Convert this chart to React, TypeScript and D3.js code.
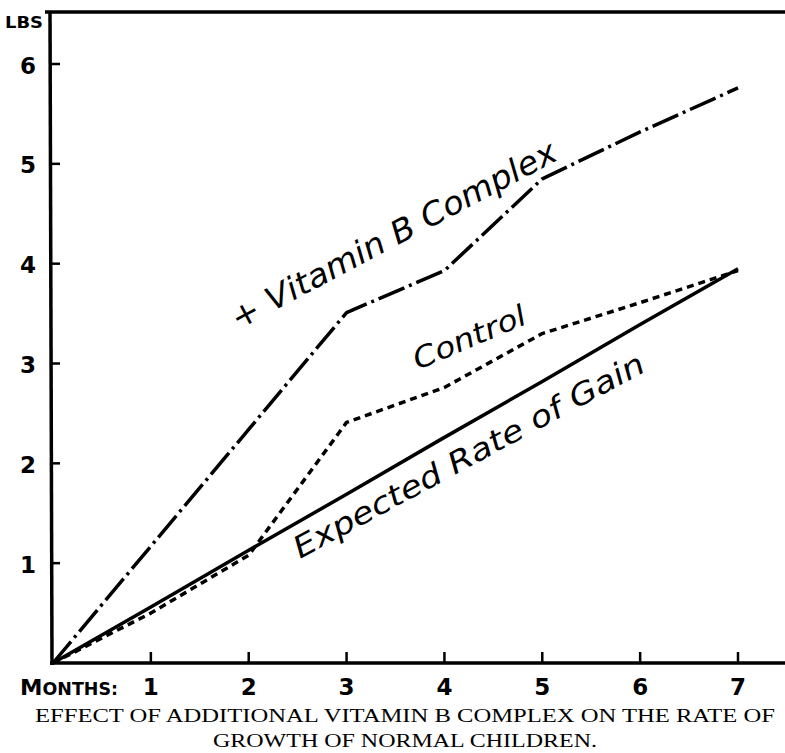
import React from "react";
import * as d3 from "d3";

const months = [0, 1, 2, 3, 4, 5, 6, 7];
const vitaminB = [0, 1.17, 2.34, 3.51, 3.93, 4.85, 5.32, 5.76];
const control = [0, 0.5, 1.08, 2.41, 2.76, 3.3, 3.61, 3.93];
const expected = [0, 0.56, 1.13, 1.69, 2.26, 2.82, 3.39, 3.95];
const xTicks = [1, 2, 3, 4, 5, 6, 7];
const yTicks = [1, 2, 3, 4, 5, 6];

const W = 785;
const H = 753;

export default function App() {
  const x = d3.scaleLinear().domain([0, 7]).range([53, 738]);
  const y = d3.scaleLinear().domain([0, 6]).range([663, 64]);
  const line = d3
    .line<[number, number]>()
    .x((d) => x(d[0]))
    .y((d) => y(d[1]));
  const pts = (vals: number[]) => months.map((m, i) => [m, vals[i]] as [number, number]);

  const hand = "'DejaVu Sans', sans-serif";
  const bold = "'DejaVu Sans', sans-serif";
  const serif = "'Liberation Serif', 'DejaVu Serif', serif";

  return (
    <svg
      width={W}
      height={H}
      viewBox={`0 0 ${W} ${H}`}
      style={{ position: "absolute", left: 0, top: 0, background: "#fff" }}
    >
      <rect x={0} y={0} width={W} height={H} fill="#fff" />
      {/* frame top */}
      <line x1={45} y1={12} x2={785} y2={12} stroke="#000" strokeWidth={3.5} />
      {/* y axis */}
      <line x1={50} y1={11} x2={52} y2={665} stroke="#000" strokeWidth={3.5} />
      {/* x axis */}
      <line x1={50} y1={663} x2={785} y2={663} stroke="#000" strokeWidth={3.5} />

      {/* LBS */}
      <text x={5} y={28} fontFamily={bold} fontWeight="bold" fontSize={16} textLength={38} lengthAdjust="spacingAndGlyphs">
        LBS
      </text>

      {/* y ticks */}
      {yTicks.map((t) => (
        <g key={"y" + t}>
          <line x1={51} y1={y(t)} x2={60} y2={y(t)} stroke="#000" strokeWidth={2.5} />
          <text
            x={28}
            y={y(t) + 3}
            fontFamily={bold}
            fontWeight="bold"
            fontSize={23}
            textAnchor="middle"
            dominantBaseline="middle"
          >
            {t}
          </text>
        </g>
      ))}

      {/* x ticks */}
      {xTicks.map((t) => (
        <g key={"x" + t}>
          <line x1={x(t)} y1={663} x2={x(t)} y2={652} stroke="#000" strokeWidth={2.5} />
          <text x={x(t)} y={695} fontFamily={bold} fontWeight="bold" fontSize={23} textAnchor="middle">
            {t}
          </text>
        </g>
      ))}

      {/* MONTHS: */}
      <text x={20} y={695} fontFamily={bold} fontWeight="bold" textLength={98} lengthAdjust="spacingAndGlyphs">
        <tspan fontSize={22}>M</tspan>
        <tspan fontSize={17}>ONTHS:</tspan>
      </text>

      {/* series */}
      <path
        d={line(pts(expected)) || ""}
        fill="none"
        stroke="#000"
        strokeWidth={3.5}
        strokeLinejoin="round"
      />
      <path
        d={line(pts(control)) || ""}
        fill="none"
        stroke="#000"
        strokeWidth={3.5}
        strokeDasharray="7 5"
        strokeLinejoin="round"
      />
      <path
        d={line(pts(vitaminB)) || ""}
        fill="none"
        stroke="#000"
        strokeWidth={3.5}
        strokeDasharray="28 5 3 5"
        strokeLinejoin="round"
      />

      {/* handwritten labels */}
      <text
        transform="translate(238,330) rotate(-28)"
        fontFamily={hand}
        fontStyle="italic"
        fontSize={32}
        textLength={364}
        lengthAdjust="spacingAndGlyphs"
      >
        + Vitamin B Complex
      </text>
      <text
        transform="translate(418,370) rotate(-23)"
        fontFamily={hand}
        fontStyle="italic"
        fontSize={29}
        textLength={120}
        lengthAdjust="spacingAndGlyphs"
      >
        Control
      </text>
      <text
        transform="translate(300,559) rotate(-28.5)"
        fontFamily={hand}
        fontStyle="italic"
        fontSize={30}
        textLength={395}
        lengthAdjust="spacingAndGlyphs"
      >
        Expected Rate of Gain
      </text>

      {/* caption */}
      <text x={405} y={722} fontFamily={serif} fontSize={18} textAnchor="middle" textLength={740} lengthAdjust="spacingAndGlyphs">
        EFFECT OF ADDITIONAL VITAMIN B COMPLEX ON THE RATE OF
      </text>
      <text x={405} y={747} fontFamily={serif} fontSize={18} textAnchor="middle" textLength={384} lengthAdjust="spacingAndGlyphs">
        GROWTH OF NORMAL CHILDREN.
      </text>
    </svg>
  );
}
